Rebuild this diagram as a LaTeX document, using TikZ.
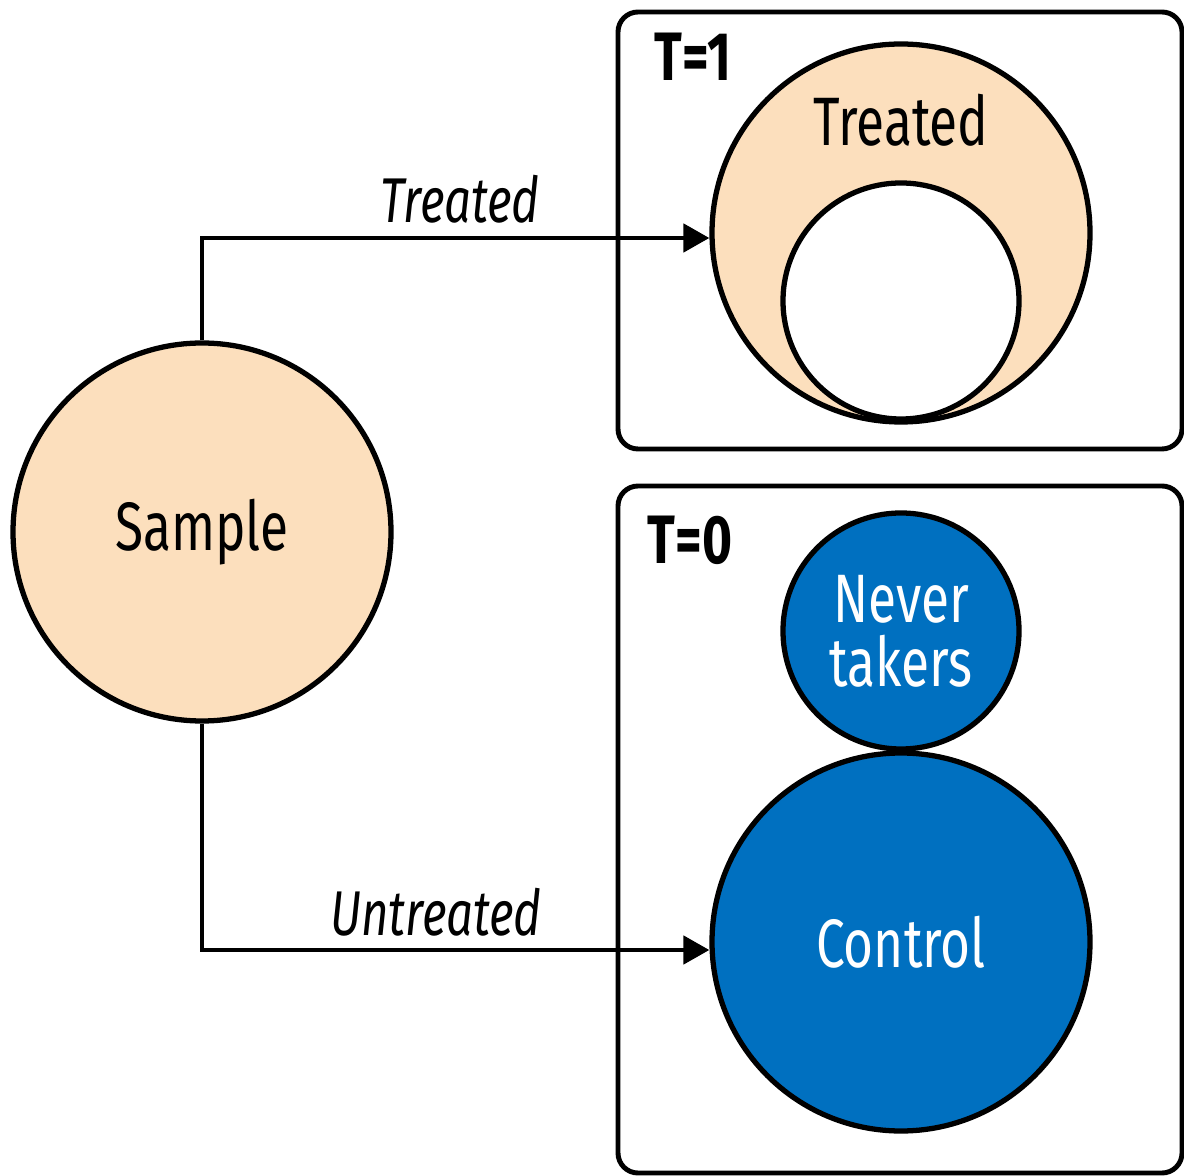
\documentclass[tikz,border=0pt]{standalone}
\usepackage{fontspec}
\setmainfont{Fira Sans}[FakeStretch=0.75]
\usepackage{tikz}
\usepackage{xcolor}
\usetikzlibrary{positioning,arrows.meta}
\definecolor{peach}{RGB}{252,223,189}
\definecolor{deepblue}{RGB}{0,112,192}

\begin{document}
\begin{tikzpicture}[every node/.style={font=\fontsize{19.5}{18.2}\selectfont},
    bigcirc/.style={circle,draw,line width=1.5pt,inner sep=0pt,minimum size=3.78cm},
    smallcirc/.style={circle,draw,line width=1.5pt,inner sep=0pt,minimum size=2.36cm},
    panel/.style={draw,line width=1.4pt,rounded corners=0.2cm},
    arr/.style={line width=1.4pt,-{Triangle[length=0.26cm,width=0.28cm]}}]
  \useasboundingbox (0,0) rectangle (11.84,-11.76);
  % panels
  \draw[panel] (6.18,-0.12) rectangle (11.82,-4.49);
  \draw[panel] (6.18,-4.86) rectangle (11.82,-11.73);
  \node[font=\fontsize{19.5}{18.2}\selectfont\bfseries] (tone) at (6.93,-0.57) {T=1};
  \node[font=\fontsize{19.5}{18.2}\selectfont\bfseries] (tzero) at (6.90,-5.40) {T=0};
  % sample
  \node[bigcirc,fill=peach] (sample) at (2.02,-5.32) {Sample};
  % treated group
  \node[bigcirc,fill=peach] (treatcirc) at (9.01,-2.33) {};
  \node[smallcirc,fill=white] (inner) at (9.01,-3.01) {};
  \node (treattxt) at (9.01,-1.20) {Treated};
  % control group
  \node[smallcirc,fill=deepblue,text=white,align=center] (never) at (9.01,-6.31) {Never\\takers};
  \node[bigcirc,fill=deepblue,text=white] (control) at (9.01,-9.42) {Control};
  % assignment arrows
  \draw[arr] (sample.north) |- ([yshift=-0.05cm]treatcirc.west);
  \draw[arr] (sample.south) |- ([yshift=-0.08cm]control.west);
  \node[font=\fontsize{18}{18}\selectfont\itshape] (treatlab) at (4.60,-1.99) {Treated};
  \node[font=\fontsize{18}{18}\selectfont\itshape] (untreatlab) at (4.36,-9.12) {Untreated};
\end{tikzpicture}
\end{document}
